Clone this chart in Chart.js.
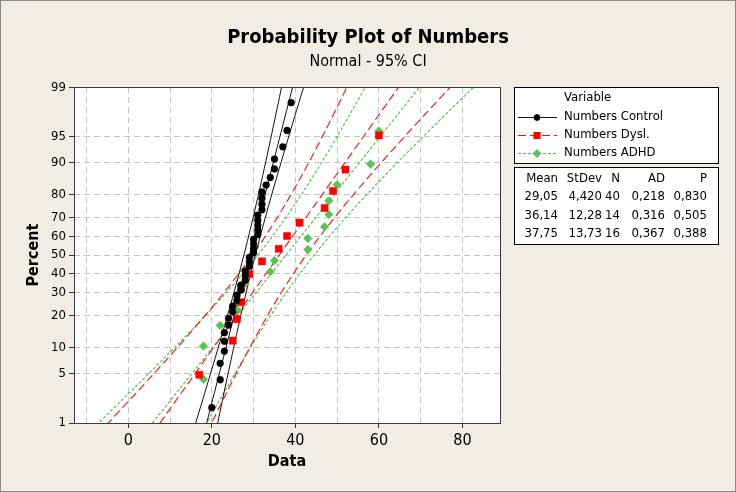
<!DOCTYPE html>
<html>
<head>
<meta charset="utf-8">
<script src="https://cdn.jsdelivr.net/npm/chart.js@4.4.1/dist/chart.umd.min.js"></script>
<style>
  html, body { margin: 0; padding: 0; background: #f1ede4; }
</style>
</head>
<body>
<canvas id="probPlot" width="736" height="492"></canvas>
<script>
const controlData = [20, 22, 22, 23, 23, 23, 24, 24, 25, 25, 26, 26, 27, 27, 28, 28, 28, 29, 29, 29,
                     30, 30, 30, 30, 31, 31, 31, 31, 31, 32, 32, 32, 32, 33, 34, 35, 35, 37, 38, 39];
const dyslData = [17, 25, 26, 27, 27, 29, 32, 36, 38, 41, 47, 49, 52, 60];
const adhdData = [18, 18, 22, 26, 26, 28, 34, 35, 43, 43, 47, 48, 48, 50, 58, 60];

// summary table
const seriesNames = ['Numbers Control', 'Numbers Dysl.', 'Numbers ADHD'];
const means = [29.05, 36.14, 37.75];
const stdevs = [4.420, 12.28, 13.73];
const counts = [40, 14, 16];
const adValues = [0.218, 0.316, 0.367];
const pValues = [0.830, 0.505, 0.388];

const yTickPercents = [1, 5, 10, 20, 30, 40, 50, 60, 70, 80, 90, 95, 99];
const xMin = -13, xMax = 89;

const FONT = "'DejaVu Sans Condensed', 'DejaVu Sans', sans-serif";
const styles = [
  { color: '#000000', line: '#111111', width: 1, dash: [], point: 'circle', radius: 3.4 },
  { color: '#ff0000', line: '#ff1010', width: 1.1, dash: [8, 4], point: 'rect', radius: 5 },
  { color: '#55c455', line: '#48c048', width: 1.1, dash: [3, 2], point: 'rectRot', radius: 4.3 }
];

// inverse normal cdf (Acklam) - the probability axis is linear in z
function probit(p) {
  const a = [-3.969683028665376e+01, 2.209460984245205e+02, -2.759285104469687e+02, 1.383577518672690e+02, -3.066479806614716e+01, 2.506628277459239e+00];
  const b = [-5.447609879822406e+01, 1.615858368580409e+02, -1.556989798598866e+02, 6.680131188771972e+01, -1.328068155288572e+01];
  const c = [-7.784894002430293e-03, -3.223964580411365e-01, -2.400758277161838e+00, -2.549732539343734e+00, 4.374664141464968e+00, 2.938163982698783e+00];
  const d = [7.784695709041462e-03, 3.224671290700398e-01, 2.445134137142996e+00, 3.754408661907416e+00];
  const pl = 0.02425;
  let q, r;
  if (p < pl) {
    q = Math.sqrt(-2 * Math.log(p));
    return (((((c[0]*q+c[1])*q+c[2])*q+c[3])*q+c[4])*q+c[5]) / ((((d[0]*q+d[1])*q+d[2])*q+d[3])*q+1);
  }
  if (p > 1 - pl) {
    q = Math.sqrt(-2 * Math.log(1 - p));
    return -(((((c[0]*q+c[1])*q+c[2])*q+c[3])*q+c[4])*q+c[5]) / ((((d[0]*q+d[1])*q+d[2])*q+d[3])*q+1);
  }
  q = p - 0.5; r = q * q;
  return (((((a[0]*r+a[1])*r+a[2])*r+a[3])*r+a[4])*r+a[5])*q / (((((b[0]*r+b[1])*r+b[2])*r+b[3])*r+b[4])*r+1);
}

// median ranks, like minitab does
function plotPoints(data) {
  const n = data.length;
  return data.map((x, i) => ({ x: x, y: probit((i + 1 - 0.3) / (n + 0.4)) }));
}

// fitted line + 95% band from mean / stdev / N
function fitLines(mean, sd, n) {
  const fit = [], lo = [], hi = [];
  for (let k = -26; k <= 26; k++) {
    const z = k / 10;
    const xp = mean + z * sd;
    const se = sd * Math.sqrt((1 + z * z / 2) / n);
    fit.push({ x: xp, y: z });
    lo.push({ x: xp - 1.96 * se, y: z });
    hi.push({ x: xp + 1.96 * se, y: z });
  }
  return [fit, lo, hi];
}

const allData = [controlData, dyslData, adhdData];
const datasets = [];
allData.forEach((d, i) => {
  const s = styles[i];
  datasets.push({
    label: seriesNames[i],
    data: plotPoints(d),
    showLine: false,
    pointStyle: s.point,
    pointRadius: s.radius,
    pointBackgroundColor: s.color,
    pointBorderColor: s.color,
    pointBorderWidth: 0.5
  });
});
allData.forEach((d, i) => {
  const s = styles[i];
  fitLines(means[i], stdevs[i], counts[i]).forEach(line => {
    datasets.push({
      data: line,
      showLine: true,
      pointRadius: 0,
      borderColor: s.line,
      borderWidth: s.width,
      borderDash: s.dash,
      fill: false
    });
  });
});

const fmt = (v, digits) => v.toPrecision(digits).replace('.', ',');

const framePlugin = {
  id: 'frame',
  beforeDraw(chart) {
    const { ctx, chartArea: a } = chart;
    ctx.save();
    ctx.fillStyle = '#f1ede4';
    ctx.fillRect(0, 0, chart.width, chart.height);
    ctx.fillStyle = '#ffffff';
    ctx.fillRect(a.left, a.top, a.right - a.left, a.bottom - a.top);
    ctx.restore();
  },
  afterDraw(chart) {
    const { ctx, chartArea: a } = chart;
    ctx.save();
    ctx.strokeStyle = '#3a3a3a';
    ctx.lineWidth = 1;
    ctx.strokeRect(Math.round(a.left) + 0.5, Math.round(a.top) + 0.5,
                   Math.round(a.right - a.left), Math.round(a.bottom - a.top));
    ctx.strokeStyle = '#8a8a8a';
    ctx.strokeRect(0.5, 0.5, chart.width - 1, chart.height - 1);

    // legend box
    ctx.fillStyle = '#ffffff';
    ctx.strokeStyle = '#000000';
    ctx.fillRect(514.5, 87.5, 204, 76);
    ctx.strokeRect(514.5, 87.5, 204, 76);
    ctx.fillRect(514.5, 167.5, 204, 77);
    ctx.strokeRect(514.5, 167.5, 204, 77);

    ctx.font = '13px ' + FONT;
    ctx.fillStyle = '#000';
    ctx.textBaseline = 'middle';
    ctx.textAlign = 'left';
    ctx.fillText('Variable', 564, 98);
    seriesNames.forEach((name, i) => {
      const s = styles[i];
      const y = 117 + i * 18;
      ctx.save();
      ctx.strokeStyle = s.line;
      ctx.lineWidth = s.width;
      ctx.setLineDash(s.dash);
      ctx.beginPath();
      ctx.moveTo(518, y + 0.5);
      ctx.lineTo(557, y + 0.5);
      ctx.stroke();
      ctx.setLineDash([]);
      ctx.fillStyle = s.color;
      ctx.strokeStyle = s.color;
      Chart.helpers.drawPoint(ctx, { pointStyle: s.point, radius: s.radius * 0.85, rotation: 0, borderWidth: 0.5 }, 537, y + 0.5);
      ctx.restore();
      ctx.fillStyle = '#000';
      ctx.fillText(name, 564, y);
    });

    // stats table
    const colRight = [558, 602, 620, 665, 707];
    const header = ['Mean', 'StDev', 'N', 'AD', 'P'];
    ctx.textAlign = 'right';
    header.forEach((h, j) => ctx.fillText(h, colRight[j], 179));
    means.forEach((m, i) => {
      const row = [fmt(m, 4), fmt(stdevs[i], 4), String(counts[i]),
                   adValues[i].toFixed(3).replace('.', ','), pValues[i].toFixed(3).replace('.', ',')];
      row.forEach((t, j) => ctx.fillText(t, colRight[j], 197 + i * 18.2));
    });
    ctx.restore();
  }
};

new Chart(document.getElementById('probPlot'), {
  type: 'scatter',
  data: { datasets: datasets },
  options: {
    responsive: false,
    animation: false,
    layout: { padding: 0 },
    plugins: {
      legend: { display: false },
      tooltip: { enabled: false },
      title: {
        display: true,
        text: 'Probability Plot of Numbers',
        color: '#000',
        font: { family: FONT, size: 20, weight: 'bold', lineHeight: 1.2 },
        padding: { top: 26, bottom: 2 }
      },
      subtitle: {
        display: true,
        text: 'Normal - 95% CI',
        color: '#000',
        font: { family: FONT, size: 16, lineHeight: 1.2 },
        padding: { top: 0, bottom: 16 }
      }
    },
    scales: {
      x: {
        type: 'linear',
        min: xMin,
        max: xMax,
        afterFit(s) { s.height = 69; },
        ticks: {
          stepSize: 10,
          includeBounds: false,
          autoSkip: false,
          maxRotation: 0,
          padding: 3,
          color: '#000',
          font: { family: FONT, size: 16 },
          callback: v => (v % 20 === 0 ? v : '')
        },
        grid: {
          color: '#c4c4c4',
          tickLength: 5,
          tickColor: c => (c.tick && c.tick.value % 20 === 0 ? '#333' : 'rgba(0,0,0,0)')
        },
        border: { display: false, dash: [6, 4] },
        title: {
          display: true,
          text: 'Data',
          color: '#000',
          font: { family: FONT, size: 16, weight: 'bold', lineHeight: 1.2 },
          padding: { top: 0, bottom: 21 }
        }
      },
      y: {
        type: 'linear',
        min: probit(0.01),
        max: probit(0.99),
        afterFit(s) { s.width = 74; },
        afterBuildTicks(s) { s.ticks = yTickPercents.map(p => ({ value: probit(p / 100) })); },
        ticks: {
          autoSkip: false,
          padding: 3,
          color: '#000',
          font: { family: FONT, size: 13 },
          callback: (v, i) => yTickPercents[i]
        },
        grid: { color: '#c4c4c4', tickLength: 5, tickColor: '#333' },
        border: { display: false, dash: [6, 4] },
        title: {
          display: true,
          text: 'Percent',
          color: '#000',
          font: { family: FONT, size: 16, weight: 'bold', lineHeight: 1.2 },
          padding: { top: 24, bottom: 0 }
        }
      },
      rightSpace: {
        type: 'linear',
        position: 'right',
        display: true,
        afterFit(s) { s.width = 236; },
        grid: { display: false, drawTicks: false },
        border: { display: false },
        ticks: { display: false }
      }
    }
  },
  plugins: [framePlugin]
});
</script>
</body>
</html>
